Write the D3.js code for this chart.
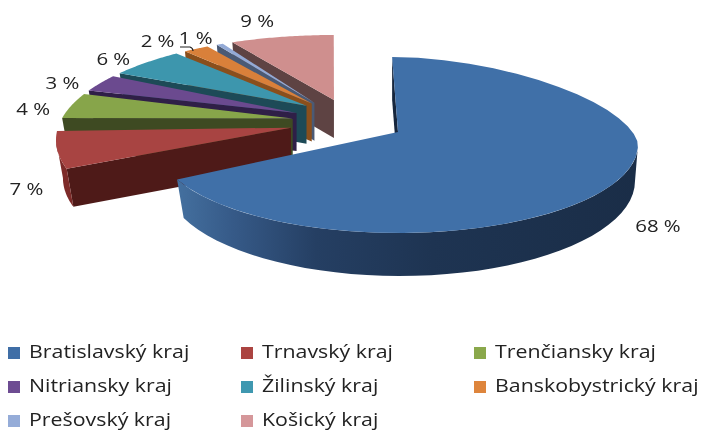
<!DOCTYPE html>
<html><head><meta charset="utf-8">
<script src="https://cdnjs.cloudflare.com/ajax/libs/d3/7.8.5/d3.min.js"></script>
<style>html,body{margin:0;background:#fff}svg{display:block;filter:blur(.5px)}text{font-family:"Open Sans",sans-serif;fill:#222}</style>
</head><body><svg id="c" width="701" height="431"></svg>
<script>
const regions=["Bratislavský kraj","Trnavský kraj","Trenčiansky kraj","Nitriansky kraj","Žilinský kraj","Banskobystrický kraj","Prešovský kraj","Košický kraj"];
const shares=[68,7,4,3,6,2,1,9];
const topColors=["#4070a8","#a84442","#87a54a","#6b4a8f","#3d96ad","#d9803a","#93aad6","#cf8f8e"];
const wallColors=["#1f3655","#4e1a18","#3e4a22","#2f1f47","#1d4a57","#8a4f1c","#4a5a75","#5e4343"];
const legendColors=["#3f6ea6","#ab4441","#8aa84b","#6d4c92","#3f98b0","#de853c","#95acd8","#d5979a"];
const labelNudge=[[0,0],[4,32],[2,4],[2,5],[4,6],[-6,5],[6,8],[-2,1]];

const svg=d3.select("#c"),rad=d=>d*Math.PI/180;
const pie=d3.pie().sort(null).value(d=>d)(shares);

// Foreshortening of the far, exploded slices: share counted back from 12 o'clock -> drawn angle
const farAngle=d3.scaleLinear().domain([0,9,10,12,18,21,25,25.01,32]).range([-1,22.5,26,33.5,51.5,63,79,84,107]);
const farPad=1,edgeEps=.02;
const far={cx:334,cy:140,rx:278,ry:105,depth:38,wallScale:.975};
const blueAngle=d3.scaleLinear().domain([0,68]).range([-1.4,247]);
const blueTop={cx:398,cy:145,rx:240,ry:88,apex:[398,132]};
const blueBase={cx:400,cy:181,rx:235,ry:95};

const defs=svg.append("defs");
const grad=defs.append("linearGradient").attr("id","blueWall").attr("gradientUnits","userSpaceOnUse")
  .attr("x1",177).attr("x2",640).attr("y1",0).attr("y2",0);
[[0,"#44709f"],[.12,"#365a88"],[.3,"#253f63"],[.55,"#1e3452"],[1,"#1a2d47"]].forEach(s=>grad.append("stop").attr("offset",s[0]).attr("stop-color",s[1]));

const line=d3.line();
const ell=(E,a)=>[E.cx+E.rx*Math.sin(rad(a)),E.cy-E.ry*Math.cos(rad(a))];
const farPt=(E,a)=>[E.cx-E.rx*Math.sin(rad(a)),E.cy-E.ry*Math.cos(rad(a))];
const blueTopPt=a=>{
  if(a<=0||a>=90)return ell(blueTop,a);
  const u=Math.sin(rad(a)),p=1.7;           // flatter upper right shoulder
  return [blueTop.cx+blueTop.rx*u,blueTop.cy-blueTop.ry*Math.pow(1-Math.pow(u,p),1/p)];
};
const arc=(a0,a1,f)=>d3.range(0,41).map(i=>f(a0+(a1-a0)*i/40));
const farDown=p=>[far.cx+(p[0]-far.cx)*far.wallScale,p[1]+far.depth];
const farApex=a=>{const b=Math.min(a,80);return [far.cx-43*Math.sin(rad(Math.min(b*1.15,90))),far.cy-40*Math.cos(rad(b*.9))];};

// painter's order: far slices from 12 o'clock backwards, then the big near one
for(let i=shares.length-1;i>=1;i--){
  const d=pie[i];
  const backEnd=100-d.startAngle/(2*Math.PI)*100, backStart=100-d.endAngle/(2*Math.PI)*100;
  const p0=Math.max(farAngle(backStart+edgeEps)+farPad,0), p1=farAngle(backEnd-edgeEps)-farPad;
  const A=farApex(p0), O1=farPt(far,p1);
  const g=svg.append("g");
  g.append("path").attr("fill",wallColors[i]).attr("d",line([O1,A,[A[0],A[1]+far.depth],farDown(O1)])+"Z");
  if(p1>90){
    const rim=arc(90,p1,a=>farPt(far,a));
    g.append("path").attr("fill","#7d2b29").attr("d",line(rim.concat(rim.map(farDown).reverse()))+"Z");
  }
  g.append("path").attr("fill",topColors[i]).attr("d",line(arc(p0,p1,a=>farPt(far,a)).concat([A]))+"Z");
}
{
  const a0=blueAngle(0),a1=blueAngle(68),A=blueTop.apex;
  const S=ell(blueTop,a0);
  svg.append("path").attr("fill","#16263d").attr("d",line([S,A,[A[0],A[1]+43],[S[0],S[1]+43]])+"Z");
  const rimTop=arc(90,a1,blueTopPt), rimBase=arc(90,a1,a=>ell(blueBase,a));
  svg.append("path").attr("fill","url(#blueWall)").attr("d",line(rimTop.concat(rimBase.reverse()))+"Z");
  svg.append("path").attr("fill",topColors[0]).attr("d",line(arc(a0,a1,blueTopPt).concat([A]))+"Z");
}

const stretch=(sel,k)=>{const w=sel.node().getComputedTextLength();sel.attr("textLength",w*k).attr("lengthAdjust","spacingAndGlyphs");return sel;};

// value labels
const labelRing={cx:334,cy:140,rx:315,ry:122};
shares.forEach((v,i)=>{
  let p;
  if(i===0){p=[658,227];}
  else{
    const d=pie[i],b0=100-d.endAngle/(2*Math.PI)*100,b1=100-d.startAngle/(2*Math.PI)*100;
    p=farPt(labelRing,(farAngle(b0+edgeEps)+farAngle(b1-edgeEps))/2+3);
  }
  stretch(svg.append("text").attr("x",p[0]+labelNudge[i][0]).attr("y",p[1]+labelNudge[i][1])
    .attr("text-anchor","middle").attr("dominant-baseline","middle").attr("font-size",17).text(v+" %"),1.2);
});
// leader under the 1 % label
svg.append("path").attr("fill","none").attr("stroke","#222").attr("stroke-width",1.2)
  .attr("d","M180,47 H190 Q193,48 193,51");

// legend
const colX=d3.scalePoint().domain([0,1,2]).range([8,474]);
const rowY=d3.scalePoint().domain([0,1,2]).range([353,421]);
regions.forEach((r,i)=>{
  const x=colX(i%3),y=rowY(Math.floor(i/3));
  svg.append("rect").attr("x",x).attr("y",y-6).attr("width",12).attr("height",12).attr("fill",legendColors[i]);
  stretch(svg.append("text").attr("x",x+21).attr("y",y).attr("dominant-baseline","middle").attr("font-size",17.5).text(r),1.22);
});
</script></body></html>
